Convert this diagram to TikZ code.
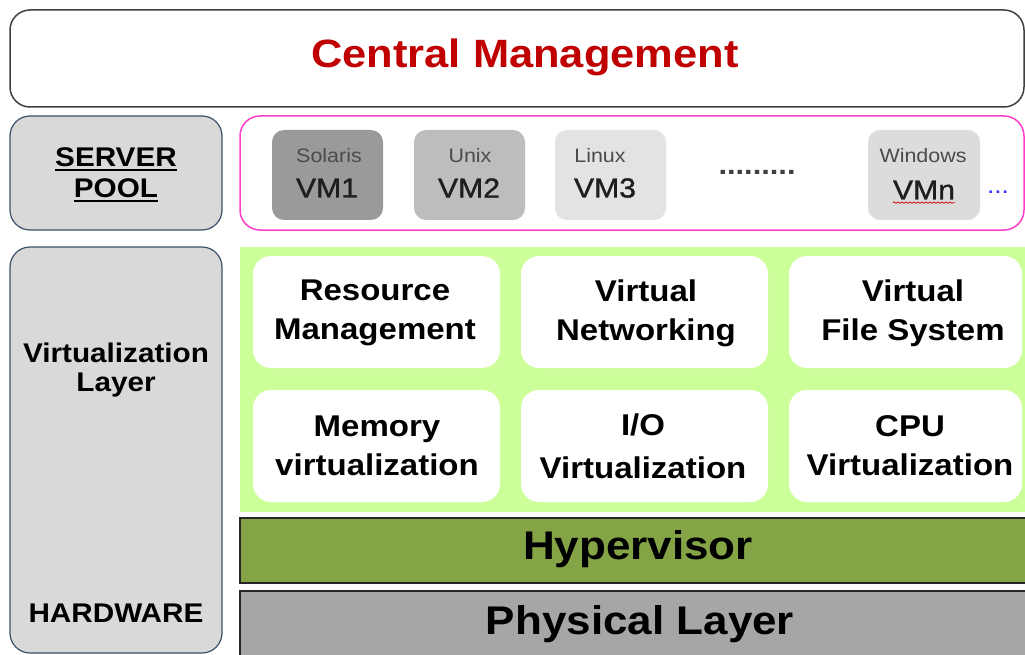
\documentclass[tikz,border=0pt]{standalone}
\usepackage{fontspec}
\setmainfont{Liberation Sans}[FakeStretch=1.1]
\newfontfamily\vmfont{Liberation Sans}[FakeStretch=1.1, FakeBold=1.2]
\usetikzlibrary{decorations.pathmorphing}

\definecolor{cmred}{HTML}{C00000}
\definecolor{panelfill}{HTML}{D9D9D9}
\definecolor{panelline}{HTML}{3B506A}
\definecolor{poolline}{HTML}{FF3EC8}
\definecolor{layergreen}{HTML}{CCFF99}
\definecolor{hyperfill}{HTML}{84A446}
\definecolor{physfill}{HTML}{A6A6A6}
\definecolor{vmone}{HTML}{9A9A9A}
\definecolor{vmtwo}{HTML}{BDBDBD}
\definecolor{vmthree}{HTML}{E3E3E3}
\definecolor{vmlast}{HTML}{DCDCDC}
\definecolor{vmtext}{HTML}{1E1E1E}

\tikzset{
  box/.style={rectangle, inner sep=0pt, outer sep=0pt},
  panel/.style={box, rounded corners=20pt, draw=panelline, fill=panelfill, line width=1.2pt},
  vmbox/.style={box, rounded corners=12pt},
  cell/.style={box, rounded corners=18pt, fill=white},
  bar/.style={box, draw=black!85, line width=1.5pt},
  sidetext/.style={inner sep=0pt, font=\fontsize{27}{31}\selectfont\bfseries},
  celltext/.style={inner sep=0pt, align=center, font=\fontsize{30}{39}\selectfont\bfseries},
  bigtext/.style={inner sep=0pt, font=\fontsize{40}{44}\selectfont\bfseries},
  ostext/.style={inner sep=0pt, text=vmtext!80, font=\fontsize{19.5}{22}\selectfont},
  vmtxt/.style={inner sep=0pt, text=vmtext, font=\vmfont\fontsize{27.4}{30}\selectfont},
}

\begin{document}
\begin{tikzpicture}[x=1pt, y=-1pt]
\useasboundingbox (0,0) rectangle (1025,655);
\clip (0,0) rectangle (1025,655);

% top band
\node[box, rounded corners=20pt, draw=black!75, line width=1.5pt, fill=white,
      minimum width=1014pt, minimum height=97pt] (central) at (517,58.5) {};
\node[inner sep=0pt, text=cmred, font=\fontsize{39.5}{42}\selectfont\bfseries]
      (centraltxt) at (525,57) {Central Management};

% server pool
\node[panel, minimum width=212pt, minimum height=114pt] (pool) at (116,173) {};
\node[sidetext, anchor=base] (srv) at (116,167) {SERVER};
\node[sidetext, anchor=base] (pl) at (116,198) {POOL};
\draw[line width=2pt] ([yshift=-3.5pt]srv.base west) -- ([yshift=-3.5pt]srv.base east);
\draw[line width=2pt] ([yshift=-3.5pt]pl.base west) -- ([yshift=-3.5pt]pl.base east);

\node[box, rounded corners=20pt, draw=poolline, line width=1.5pt, fill=white,
      minimum width=784pt, minimum height=114pt] (vms) at (632,173) {};

% virtual machines
\node[vmbox, fill=vmone,   minimum width=111pt, minimum height=90pt] (vm1) at (327.5,175) {};
\node[vmbox, fill=vmtwo,   minimum width=111pt, minimum height=90pt] (vm2) at (469.5,175) {};
\node[vmbox, fill=vmthree, minimum width=111pt, minimum height=90pt] (vm3) at (610.5,175) {};
\node[vmbox, fill=vmlast,  minimum width=112pt, minimum height=90pt] (vmn) at (924,175) {};

\node[ostext] (os1) at (329,156) {Solaris};
\node[vmtxt]  (n1)  at (327,188) {VM1};
\node[ostext] (os2) at (470,156) {Unix};
\node[vmtxt]  (n2)  at (469,188) {VM2};
\node[ostext] (os3) at (600,156) {Linux};
\node[vmtxt]  (n3)  at (605,188) {VM3};
\node[ostext] (osn) at (923,156) {Windows};
\node[vmtxt]  (nn)  at (924,190) {VMn};
\draw[red!80!black, line width=0.7pt, decorate,
      decoration={snake, amplitude=0.8pt, segment length=4pt}]
      ([yshift=-3pt]nn.south west) -- ([yshift=-3pt]nn.south east);

\node[inner sep=0pt, text=black!75, font=\fontsize{28}{30}\selectfont\bfseries]
      (gap) at (757,172) {.........};
\node[inner sep=0pt, text=blue!80, font=\fontsize{24}{26}\selectfont]
      (more) at (998,192) {...};

% virtualization layer
\node[panel, minimum width=212pt, minimum height=406pt] (virt) at (116,450) {};
\node[sidetext] (vl1) at (116,353) {Virtualization};
\node[sidetext] (vl2) at (116,385) {Layer};
\node[sidetext] (hw)  at (116,613) {HARDWARE};

\node[box, fill=layergreen, minimum width=790pt, minimum height=265pt] (green) at (635,379.5) {};

\node[cell, minimum width=247pt, minimum height=112pt] (c11) at (376.5,312) {};
\node[cell, minimum width=247pt, minimum height=112pt] (c12) at (644.5,312) {};
\node[cell, minimum width=233pt, minimum height=112pt] (c13) at (905.5,312) {};
\node[cell, minimum width=247pt, minimum height=112pt] (c21) at (376.5,446) {};
\node[cell, minimum width=247pt, minimum height=112pt] (c22) at (644.5,446) {};
\node[cell, minimum width=233pt, minimum height=112pt] (c23) at (905.5,446) {};

\node[celltext] (t11) at (375,313) {Resource\\Management};
\node[celltext] (t12) at (646,313) {Virtual\\Networking};
\node[celltext] (t13) at (913,313) {Virtual\\File System};
\node[celltext] (t21) at (377,446) {Memory\\virtualization};
\node[celltext, font=\fontsize{30}{43}\selectfont\bfseries] (t22) at (643,446) {I/O\\Virtualization};
\node[celltext] (t23) at (910,446) {CPU\\Virtualization};

% hypervisor and hardware
\node[bar, fill=hyperfill, minimum width=790pt, minimum height=65pt] (hyp) at (635,550.5) {};
\node[bigtext] (hyptxt) at (638,549) {Hypervisor};
\node[bar, fill=physfill, minimum width=790pt, minimum height=69pt] (phys) at (635,625.5) {};
\node[bigtext] (phystxt) at (640,624) {Physical Layer};
\end{tikzpicture}
\end{document}
